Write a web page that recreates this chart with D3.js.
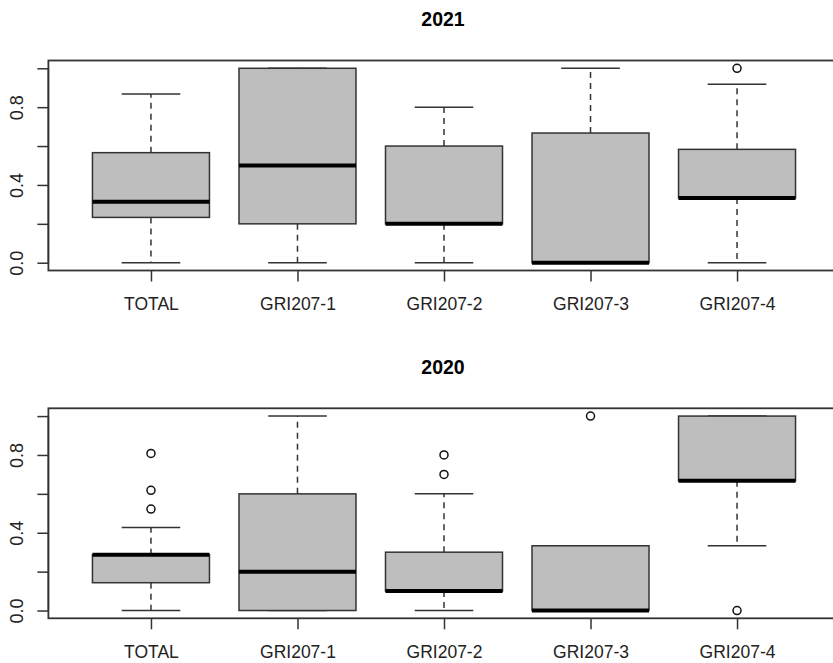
<!DOCTYPE html>
<html>
<head>
<meta charset="utf-8">
<script src="https://cdn.jsdelivr.net/npm/d3@7"></script>
<style>
    body { margin: 0; background: #fff; }
    svg { display: block; font-family: "Liberation Sans", Arial, sans-serif; }
</style>
</head>
<body>
<div id="chart"></div>
<script>
// categories shared by both panels
const categories = ["TOTAL", "GRI207-1", "GRI207-2", "GRI207-3", "GRI207-4"];
const yTicks = [0, 0.2, 0.4, 0.6, 0.8, 1.0];
const yLabelled = [0, 0.4, 0.8];

// five-number summaries: [lower whisker, q1, median, q3, upper whisker]
const stats2021 = [
    [0, 0.233, 0.314, 0.566, 0.868],
    [0, 0.2, 0.5, 1.0, 1.0],
    [0, 0.2, 0.2, 0.6, 0.8],
    [0, 0, 0, 0.667, 1.0],
    [0, 0.333, 0.333, 0.583, 0.918]
];
const outliers2021 = [[], [], [], [], [1.0]];

const stats2020 = [
    [0, 0.143, 0.287, 0.287, 0.427],
    [0, 0, 0.2, 0.6, 1.0],
    [0, 0.1, 0.1, 0.3, 0.6],
    [0, 0, 0, 0.333, 0.333],
    [0.333, 0.667, 0.667, 1.0, 1.0]
];
const outliers2020 = [[0.808, 0.618, 0.522], [], [0.8, 0.7], [1.0], [0]];

const panels = [
    { title: "2021", stats: stats2021, outliers: outliers2021, top: 60.5 },
    { title: "2020", stats: stats2020, outliers: outliers2020, top: 408.3 }
];

const width = 833, height = 663;
const plotLeft = 48.4, plotRight = 839.6, plotH = 210;
const boxW = 117, capW = 58.6;
const lineCol = "#333";

const svg = d3.select("#chart").append("svg")
    .attr("width", width)
    .attr("height", height);

const x = d3.scaleLinear()
    .domain([0.3, 5.7])
    .range([plotLeft, plotRight]);

panels.forEach(p => {
    const bottom = p.top + plotH;
    const y = d3.scaleLinear().domain([-0.04, 1.04]).range([bottom, p.top]);
    const g = svg.append("g");

    g.append("text")
        .attr("x", (plotLeft + plotRight) / 2 - 1)
        .attr("y", p.top - 34.5)
        .attr("text-anchor", "middle")
        .attr("font-size", 19.5)
        .attr("font-weight", "bold")
        .text(p.title);

    // boxes
    const box = g.selectAll("g.box")
        .data(p.stats)
        .enter().append("g")
        .attr("class", "box");

    // dashed whiskers
    box.append("line")
        .attr("x1", (d, i) => x(i + 1)).attr("x2", (d, i) => x(i + 1))
        .attr("y1", d => y(d[3])).attr("y2", d => y(d[4]))
        .attr("stroke", lineCol).attr("stroke-width", 1.5)
        .attr("stroke-dasharray", "6,5");
    box.append("line")
        .attr("x1", (d, i) => x(i + 1)).attr("x2", (d, i) => x(i + 1))
        .attr("y1", d => y(d[1])).attr("y2", d => y(d[0]))
        .attr("stroke", lineCol).attr("stroke-width", 1.5)
        .attr("stroke-dasharray", "6,5");

    // caps
    [0, 4].forEach(k => {
        box.append("line")
            .attr("x1", (d, i) => x(i + 1) - capW / 2)
            .attr("x2", (d, i) => x(i + 1) + capW / 2)
            .attr("y1", d => y(d[k])).attr("y2", d => y(d[k]))
            .attr("stroke", lineCol).attr("stroke-width", 1.5);
    });

    box.append("rect")
        .attr("x", (d, i) => x(i + 1) - boxW / 2)
        .attr("width", boxW)
        .attr("y", d => y(d[3]))
        .attr("height", d => y(d[1]) - y(d[3]))
        .attr("fill", "#bebebe")
        .attr("stroke", lineCol)
        .attr("stroke-width", 1.5);

    box.append("line")
        .attr("x1", (d, i) => x(i + 1) - boxW / 2)
        .attr("x2", (d, i) => x(i + 1) + boxW / 2)
        .attr("y1", d => y(d[2])).attr("y2", d => y(d[2]))
        .attr("stroke", "#000").attr("stroke-width", 4);

    // outliers
    const pts = [];
    p.outliers.forEach((arr, i) => arr.forEach(v => pts.push({ i: i, v: v })));
    g.selectAll("circle.out")
        .data(pts)
        .enter().append("circle")
        .attr("class", "out")
        .attr("cx", d => x(d.i + 1))
        .attr("cy", d => y(d.v))
        .attr("r", 4)
        .attr("fill", "none")
        .attr("stroke", "#111")
        .attr("stroke-width", 1.5);

    // frame
    g.append("rect")
        .attr("x", plotLeft).attr("y", p.top)
        .attr("width", plotRight - plotLeft).attr("height", plotH)
        .attr("fill", "none")
        .attr("stroke", lineCol)
        .attr("stroke-width", 1.8);

    // y axis
    const yAxis = g.append("g")
        .attr("transform", `translate(${plotLeft},0)`)
        .call(d3.axisLeft(y)
            .tickValues(yTicks)
            .tickSize(11)
            .tickFormat(d => yLabelled.includes(d) ? d3.format(".1f")(d) : ""));
    yAxis.select(".domain")
        .attr("d", `M0,${y(0)}V${y(1)}`)
        .attr("stroke", lineCol).attr("stroke-width", 1.5);
    yAxis.selectAll(".tick line").attr("stroke", lineCol).attr("stroke-width", 1.5);
    yAxis.selectAll(".tick text")
        .attr("transform", "rotate(-90)")
        .attr("x", 0)
        .attr("y", -25)
        .attr("dy", 0)
        .attr("text-anchor", "middle")
        .attr("font-size", 18)
        .attr("font-family", "'Liberation Sans', Arial, sans-serif")
        .attr("fill", "#222");

    // x axis
    const xAxis = g.append("g")
        .attr("transform", `translate(0,${bottom})`)
        .call(d3.axisBottom(x)
            .tickValues([1, 2, 3, 4, 5])
            .tickSize(11)
            .tickFormat(d => categories[d - 1]));
    xAxis.select(".domain").remove();
    xAxis.selectAll(".tick line").attr("stroke", lineCol).attr("stroke-width", 1.5);
    xAxis.selectAll(".tick text")
        .attr("y", 39.5)
        .attr("dy", 0)
        .attr("font-size", 17.5)
        .attr("font-family", "'Liberation Sans', Arial, sans-serif")
        .attr("fill", "#222");
});
</script>
</body>
</html>
